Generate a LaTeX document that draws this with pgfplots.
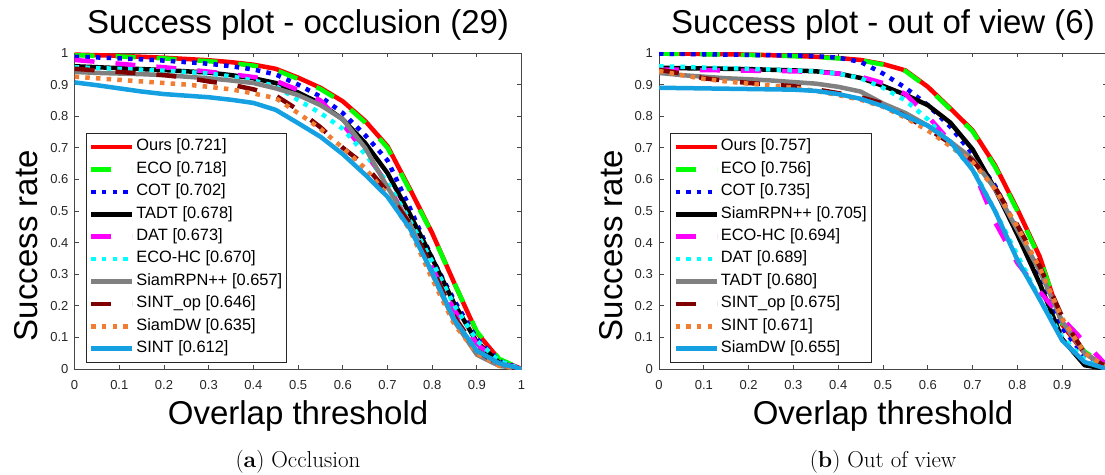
\documentclass[border=0pt]{standalone}
\usepackage{fontspec}
\newfontfamily\hv{Liberation Sans}
\usepackage{pgfplots}
\usepackage{pgfplotstable}
\pgfplotsset{compat=1.18}

\definecolor{cRed}{RGB}{255,0,0}
\definecolor{cGreen}{RGB}{0,255,0}
\definecolor{cBlue}{RGB}{0,0,255}
\definecolor{cBlack}{RGB}{0,0,0}
\definecolor{cMag}{RGB}{255,0,255}
\definecolor{cCyan}{RGB}{0,255,255}
\definecolor{cGray}{RGB}{128,128,128}
\definecolor{cDRed}{RGB}{128,0,0}
\definecolor{cOrange}{RGB}{240,125,50}
\definecolor{cLBlue}{RGB}{20,160,225}
\definecolor{frame}{RGB}{70,70,70}

\pgfplotstableread{
x    A     B     C     D     E     F     G     H     I     J
0    0.995 0.993 0.988 0.958 0.978 0.955 0.940 0.950 0.925 0.907
0.05 0.993 0.991 0.986 0.955 0.972 0.952 0.937 0.945 0.920 0.898
0.10 0.991 0.989 0.983 0.952 0.966 0.950 0.935 0.940 0.915 0.888
0.15 0.988 0.986 0.980 0.949 0.960 0.947 0.933 0.935 0.910 0.878
0.20 0.985 0.983 0.976 0.946 0.955 0.944 0.930 0.930 0.905 0.870
0.25 0.981 0.978 0.971 0.942 0.948 0.940 0.925 0.922 0.900 0.865
0.30 0.977 0.974 0.966 0.938 0.941 0.935 0.920 0.910 0.893 0.860
0.35 0.971 0.968 0.958 0.930 0.933 0.926 0.913 0.900 0.885 0.852
0.40 0.963 0.960 0.948 0.920 0.924 0.913 0.905 0.885 0.872 0.842
0.45 0.950 0.946 0.932 0.905 0.912 0.895 0.888 0.865 0.857 0.820
0.50 0.922 0.918 0.900 0.875 0.883 0.851 0.867 0.820 0.810 0.778
0.55 0.890 0.886 0.862 0.840 0.850 0.810 0.835 0.765 0.760 0.735
0.60 0.847 0.843 0.810 0.790 0.775 0.760 0.790 0.700 0.700 0.680
0.65 0.785 0.780 0.740 0.715 0.685 0.680 0.700 0.645 0.635 0.615
0.70 0.705 0.700 0.660 0.620 0.585 0.590 0.575 0.560 0.550 0.545
0.75 0.570 0.565 0.510 0.490 0.455 0.470 0.460 0.460 0.440 0.445
0.80 0.430 0.428 0.350 0.350 0.320 0.340 0.300 0.320 0.285 0.305
0.85 0.270 0.270 0.215 0.205 0.185 0.200 0.150 0.165 0.140 0.155
0.90 0.115 0.118 0.095 0.085 0.080 0.090 0.045 0.060 0.050 0.058
0.95 0.030 0.032 0.025 0.020 0.020 0.025 0.010 0.012 0.010 0.018
1.00 0.000 0.000 0.000 0.000 0.000 0.000 0.000 0.000 0.000 0.000
}\occl

\pgfplotstableread{
x    A     B     C     D     E     F     G     H     I     J
0    0.999 0.998 0.998 0.953 0.948 0.958 0.937 0.947 0.943 0.890
0.05 0.998 0.997 0.997 0.952 0.947 0.956 0.930 0.935 0.930 0.889
0.10 0.997 0.996 0.996 0.951 0.946 0.954 0.925 0.920 0.918 0.888
0.15 0.996 0.995 0.995 0.950 0.945 0.952 0.920 0.912 0.910 0.887
0.20 0.995 0.994 0.994 0.949 0.944 0.950 0.917 0.905 0.903 0.886
0.25 0.993 0.992 0.993 0.947 0.943 0.948 0.913 0.900 0.897 0.885
0.30 0.991 0.990 0.992 0.945 0.942 0.945 0.908 0.895 0.890 0.884
0.35 0.988 0.987 0.990 0.942 0.940 0.942 0.903 0.885 0.880 0.880
0.40 0.984 0.983 0.985 0.935 0.935 0.935 0.893 0.873 0.867 0.870
0.45 0.978 0.977 0.972 0.921 0.925 0.920 0.878 0.860 0.852 0.855
0.50 0.965 0.963 0.935 0.896 0.905 0.890 0.840 0.840 0.830 0.832
0.55 0.945 0.943 0.890 0.868 0.870 0.850 0.810 0.800 0.795 0.800
0.60 0.893 0.890 0.835 0.835 0.800 0.790 0.770 0.760 0.755 0.770
0.65 0.825 0.822 0.767 0.780 0.720 0.710 0.720 0.715 0.705 0.720
0.70 0.755 0.752 0.680 0.695 0.635 0.635 0.665 0.660 0.655 0.630
0.75 0.645 0.640 0.580 0.570 0.465 0.500 0.570 0.575 0.570 0.500
0.80 0.505 0.500 0.440 0.425 0.335 0.360 0.440 0.455 0.450 0.345
0.85 0.355 0.350 0.300 0.270 0.245 0.220 0.310 0.325 0.320 0.220
0.90 0.140 0.145 0.130 0.095 0.160 0.100 0.150 0.165 0.160 0.090
0.95 0.050 0.055 0.040 0.012 0.085 0.030 0.050 0.050 0.050 0.022
1.00 0.005 0.008 0.005 0.000 0.010 0.005 0.005 0.005 0.005 0.000
}\oov

\pgfplotsset{
  succ/.style={
    scale only axis, height=316pt,
    xmin=0, xmax=1, ymin=0, ymax=1,
    xtick={0,0.1,0.2,0.3,0.4,0.5,0.6,0.7,0.8,0.9,1},
    ytick={0,0.1,0.2,0.3,0.4,0.5,0.6,0.7,0.8,0.9,1},
    tick align=inside, major tick length=4.5pt, tick pos=both,
    axis line style={draw=frame, line width=0.9pt},
    every tick/.style={draw=frame, line width=0.9pt},
    /pgf/number format/assume math mode=true,
    tick label style={font=\hv\fontsize{13}{15}\selectfont, text=black!85, inner sep=0pt},
    xticklabel style={anchor=base, yshift=-20.5pt},
    yticklabel style={anchor=east, xshift=-6pt},
    title style={font=\hv\fontsize{33}{40}\selectfont, at={(axis description cs:0.5,1.0443)}, anchor=base, inner sep=0pt},
    xlabel style={font=\hv\fontsize{33}{40}\selectfont, at={(axis description cs:0.5,-0.1772)}, anchor=base, inner sep=0pt},
    ylabel style={font=\hv\fontsize{33}{40}\selectfont, at={(axis description cs:-0.0819,0.39)}, anchor=base, inner sep=0pt},
    xlabel={Overlap threshold}, ylabel={Success rate},
    legend cell align=left,
    legend style={at={(axis description cs:0.0255,0.747)}, anchor=north west,
      font=\hv\fontsize{16.4}{20}\selectfont, draw=black!85, line width=0.8pt,
      inner sep=2.5pt, row sep=0pt,
      nodes={inner xsep=2pt, inner ysep=0pt, text height=15pt, text depth=7.4pt}},
    legend image code/.code={\draw[##1] (0pt,0pt) -- (41pt,0pt);},
    every axis plot/.append style={line width=4.5pt, line join=round},
  },
  sSolid/.style={solid},
  sDash/.style={dash pattern=on 20pt off 21pt},
  sDot/.style={dash pattern=on 4.5pt off 6.2pt},
}

\begin{document}
\begin{tikzpicture}
\begin{axis}[succ, width=447pt, at={(74.6pt,105pt)}, anchor=south west,
  title={Success plot - occlusion (29)}]
\addplot[cRed, sSolid] table[x=x,y=A]{\occl}; \addlegendentry{Ours [0.721]}
\addplot[cGreen, sDash] table[x=x,y=B]{\occl}; \addlegendentry{ECO [0.718]}
\addplot[cBlue, sDot] table[x=x,y=C]{\occl}; \addlegendentry{COT [0.702]}
\addplot[cBlack, sSolid] table[x=x,y=D]{\occl}; \addlegendentry{TADT [0.678]}
\addplot[cMag, sDash] table[x=x,y=E]{\occl}; \addlegendentry{DAT [0.673]}
\addplot[cCyan, sDot] table[x=x,y=F]{\occl}; \addlegendentry{ECO-HC [0.670]}
\addplot[cGray, sSolid] table[x=x,y=G]{\occl}; \addlegendentry{SiamRPN++ [0.657]}
\addplot[cDRed, sDash] table[x=x,y=H]{\occl}; \addlegendentry{SINT\_op [0.646]}
\addplot[cOrange, sDot] table[x=x,y=I]{\occl}; \addlegendentry{SiamDW [0.635]}
\addplot[cLBlue, sSolid] table[x=x,y=J]{\occl}; \addlegendentry{SINT [0.612]}
\end{axis}

\begin{axis}[succ, width=448pt, at={(659pt,105pt)}, anchor=south west,
  ylabel style={at={(axis description cs:-0.0817,0.39)}},
  xticklabels={0,0.1,0.2,0.3,0.4,0.5,0.6,0.7,0.8,0.9,{}},
  title={Success plot - out of view (6)}]
\addplot[cRed, sSolid] table[x=x,y=A]{\oov}; \addlegendentry{Ours [0.757]}
\addplot[cGreen, sDash] table[x=x,y=B]{\oov}; \addlegendentry{ECO [0.756]}
\addplot[cBlue, sDot] table[x=x,y=C]{\oov}; \addlegendentry{COT [0.735]}
\addplot[cBlack, sSolid] table[x=x,y=D]{\oov}; \addlegendentry{SiamRPN++ [0.705]}
\addplot[cMag, sDash] table[x=x,y=E]{\oov}; \addlegendentry{ECO-HC [0.694]}
\addplot[cCyan, sDot] table[x=x,y=F]{\oov}; \addlegendentry{DAT [0.689]}
\addplot[cGray, sSolid] table[x=x,y=G]{\oov}; \addlegendentry{TADT [0.680]}
\addplot[cDRed, sDash] table[x=x,y=H]{\oov}; \addlegendentry{SINT\_op [0.675]}
\addplot[cOrange, sDot] table[x=x,y=I]{\oov}; \addlegendentry{SINT [0.671]}
\addplot[cLBlue, sSolid] table[x=x,y=J]{\oov}; \addlegendentry{SiamDW [0.655]}
\end{axis}

\node[anchor=base, font=\fontsize{23}{27}\selectfont, inner sep=0pt] at (298pt,7pt) {(\textbf{a}) Occlusion};
\node[anchor=base, font=\fontsize{23}{27}\selectfont, inner sep=0pt] at (883pt,7pt) {(\textbf{b}) Out of view};

\pgfresetboundingbox
\useasboundingbox (0pt,0pt) rectangle (1105pt,474pt);
\end{tikzpicture}
\end{document}
